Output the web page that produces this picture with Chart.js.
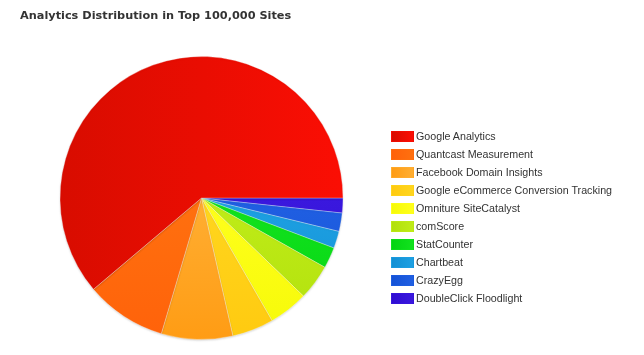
<!DOCTYPE html>
<html>
<head>
<meta charset="utf-8">
<script src="https://cdn.jsdelivr.net/npm/chart.js@4.4.1/dist/chart.umd.min.js"></script>
<style>
  html, body { margin: 0; padding: 0; background: #fff; }
  #wrap { position: relative; width: 644px; height: 355px; overflow: hidden; }
  #pie { position: absolute; left: 0; top: 0; }
  #title {
    position: absolute; left: 20px; top: 9px;
    font: bold 11.3px "DejaVu Sans", sans-serif; color: #333;
    white-space: nowrap;
  }
  #legend { position: absolute; left: 391px; top: 130px; margin: 0; padding: 0; list-style: none; }
  #legend li {
    height: 18px; line-height: 18px; white-space: nowrap;
    font: 10.7px "Liberation Sans", Arial, sans-serif; color: #333;
  }
  #legend .sw {
    display: inline-block; width: 21px; height: 9px; margin-right: 2px;
    vertical-align: middle; position: relative; top: -1px;
    border: 1px solid rgba(255,255,255,0.4);
  }
</style>
</head>
<body>
<div id="wrap">
  <canvas id="pie" width="644" height="355"></canvas>
  <div id="title">Analytics Distribution in Top 100,000 Sites</div>
  <ul id="legend"></ul>
</div>
<script>
// --- data (share of sites, %) ---
var labels = ['Google Analytics', 'Quantcast Measurement', 'Facebook Domain Insights',
  'Google eCommerce Conversion Tracking', 'Omniture SiteCatalyst', 'comScore',
  'StatCounter', 'Chartbeat', 'CrazyEgg', 'DoubleClick Floodlight'];
var values = [61.2, 9.25, 8.15, 4.75, 4.5, 4.05, 2.4, 1.95, 2.1, 1.7];
var darker = ['#d80c00', '#ff620a', '#ff9c14', '#ffca10', '#f6fa08', '#b2e00c',
  '#04d412', '#1290d4', '#1452d6', '#2e0cd2'];
var lighter = ['#fb0e04', '#ff700f', '#ffae32', '#ffd61e', '#ffff1c', '#bfec18',
  '#12e21e', '#1ea0e2', '#205fe2', '#3a18de'];

// pie is drawn clockwise from 3 o'clock, smallest slice first
var drawLabels = labels.slice().reverse();
var drawValues = values.slice().reverse();

function sliceFill(ctx) {
  var chart = ctx.chart, area = chart.chartArea;
  var i = labels.length - 1 - ctx.dataIndex;
  if (!area) return lighter[i];
  var g;
  if (i === 0) {
    // big red slice: dark on the left, bright on the right
    g = chart.ctx.createLinearGradient(area.left, 0, area.right, 0);
    g.addColorStop(0, darker[i]);
    g.addColorStop(1, lighter[i]);
  } else {
    g = chart.ctx.createLinearGradient(0, (area.top + area.bottom) / 2, 0, area.bottom);
    g.addColorStop(0, lighter[i]);
    g.addColorStop(1, darker[i]);
  }
  return g;
}

var pieShadow = {
  id: 'pieShadow',
  beforeDatasetsDraw: function (chart) {
    var c = chart.ctx;
    c.save();
    c.shadowColor = 'rgba(0,0,0,0.15)';
    c.shadowBlur = 2;
    c.shadowOffsetX = 0;
    c.shadowOffsetY = 1;
  },
  afterDatasetsDraw: function (chart) {
    chart.ctx.restore();
  }
};

new Chart(document.getElementById('pie').getContext('2d'), {
  type: 'pie',
  data: {
    labels: drawLabels,
    datasets: [{
      data: drawValues,
      backgroundColor: sliceFill,
      borderColor: 'rgba(255,255,255,0.3)',
      borderWidth: 1,
      hoverOffset: 0
    }]
  },
  plugins: [pieShadow],
  options: {
    responsive: false,
    animation: false,
    rotation: 90,
    layout: { padding: { top: 56, bottom: 15, left: 59, right: 300 } },
    plugins: {
      legend: { display: false },
      title: { display: false },
      tooltip: { enabled: false }
    }
  }
});

// --- html legend, same order as the source ---
var ul = document.getElementById('legend');
labels.forEach(function (name, i) {
  var li = document.createElement('li');
  var sw = document.createElement('span');
  sw.className = 'sw';
  sw.style.background = 'linear-gradient(to right, ' + darker[i] + ', ' + lighter[i] + ')';
  sw.style.borderColor = lighter[i] + '88';
  li.appendChild(sw);
  li.appendChild(document.createTextNode(name));
  ul.appendChild(li);
});
</script>
</body>
</html>
